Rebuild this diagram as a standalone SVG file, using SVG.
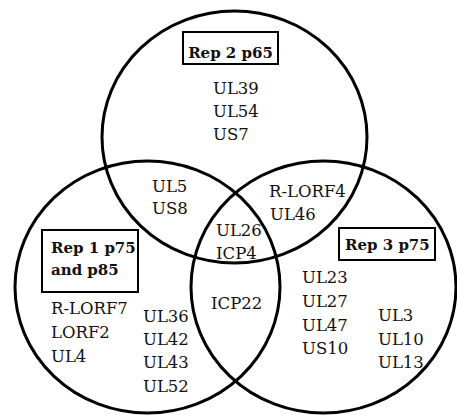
<svg xmlns="http://www.w3.org/2000/svg" width="457" height="415" viewBox="0 0 457 415">
<style>
.set{fill:none;stroke:#000;stroke-width:3}
.box{fill:#fff;stroke:#000;stroke-width:2}
.lbl text{font-family:"DejaVu Serif",serif;font-size:16.5px;fill:#111}
.lbl .t{font-weight:bold;font-size:15px}
</style>
<rect width="457" height="415" fill="#fff"/>
<g id="circles">
<ellipse id="rep2" class="set" cx="234.5" cy="137" rx="132.5" ry="126"/>
<ellipse id="rep1" class="set" cx="147.5" cy="287" rx="132.5" ry="126"/>
<ellipse id="rep3" class="set" cx="323.5" cy="287" rx="132.5" ry="126"/>
</g>
<g id="connectors"></g>
<g class="lbl">
<g id="label-rep2">
<rect class="box" x="183" y="32" width="95" height="32"/>
<text class="t" x="230.5" y="58" text-anchor="middle">Rep 2 p65</text>
</g>
<g id="label-rep1">
<rect class="box" x="42" y="230" width="96" height="62"/>
<text class="t" x="51" y="253">Rep 1 p75</text>
<text class="t" x="51" y="275">and p85</text>
</g>
<g id="label-rep3">
<rect class="box" x="339" y="228" width="96" height="32"/>
<text class="t" x="345" y="250">Rep 3 p75</text>
</g>
<g id="only-rep2">
<text x="213" y="94">UL39</text>
<text x="213" y="117">UL54</text>
<text x="213" y="140">US7</text>
</g>
<g id="rep1-rep2">
<text x="152" y="192">UL5</text>
<text x="152" y="214">US8</text>
</g>
<g id="rep2-rep3">
<text x="269" y="197">R-LORF4</text>
<text x="270" y="220">UL46</text>
</g>
<g id="all-three">
<text x="216" y="236">UL26</text>
<text x="216" y="259">ICP4</text>
</g>
<g id="rep1-rep3">
<text x="211" y="309">ICP22</text>
</g>
<g id="only-rep1">
<text x="51" y="314">R-LORF7</text>
<text x="51" y="338">LORF2</text>
<text x="51" y="362">UL4</text>
<text x="143" y="322">UL36</text>
<text x="143" y="345">UL42</text>
<text x="143" y="368">UL43</text>
<text x="143" y="392">UL52</text>
</g>
<g id="only-rep3">
<text x="302" y="283">UL23</text>
<text x="302" y="307">UL27</text>
<text x="302" y="331">UL47</text>
<text x="302" y="354">US10</text>
<text x="378" y="321">UL3</text>
<text x="378" y="345">UL10</text>
<text x="378" y="368">UL13</text>
</g>
</g>
</svg>
